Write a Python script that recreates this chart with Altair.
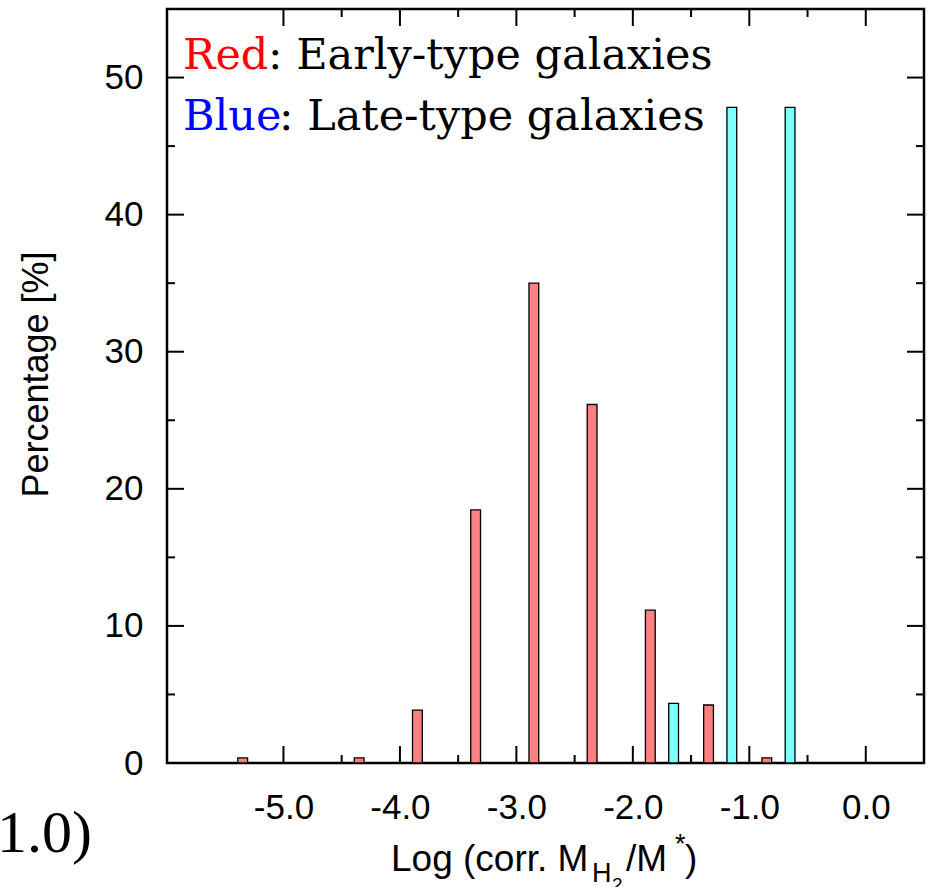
import altair as alt
import pandas as pd

# Histogram of log(corrected M_H2 / M*) in 0.5-dex bins, as percentage of each sample
early_bins = [-5.25, -4.25, -3.75, -3.25, -2.75, -2.25, -1.75, -1.25, -0.75]
early_pct = [0.38, 0.38, 3.85, 18.46, 35.00, 26.15, 11.15, 4.23, 0.38]
late_bins = [-1.75, -1.25, -0.75]
late_pct = [4.35, 47.83, 47.83]

x_major = [-5.0, -4.0, -3.0, -2.0, -1.0, 0.0]
x_minor = [-4.5, -3.5, -2.5, -1.5, -0.5]
y_major = [10, 20, 30, 40, 50]
y_minor = [5, 15, 25, 35, 45]
y_labels = [0, 10, 20, 30, 40, 50]

W, H = 757, 754
X_DOMAIN = [-6.0, 0.5]
Y_DOMAIN = [0, 55]

bars = pd.DataFrame(
    {"group": ["early"] * len(early_bins) + ["late"] * len(late_bins),
     "bin": early_bins + late_bins,
     "pct": early_pct + late_pct}
)

xs = alt.Scale(domain=X_DOMAIN, nice=False, zero=False)
ys = alt.Scale(domain=Y_DOMAIN, nice=False, zero=False)

# one axis definition shared by every layer so the merged axis keeps these settings
x_axis = alt.Axis(
    values=x_major,
    title="",
    labelExpr="(datum.value < 0 ? '-' : '') + format(abs(datum.value), '.1f')",
    labelPadding=27,
)
y_axis = alt.Axis(
    values=y_labels,
    title="Percentage [%]",
    labelPadding=24,
    titlePadding=49,
    titleFontSize=36,
    titleY=365,
)

hist = (
    alt.Chart(bars)
    .transform_calculate(
        c="datum.bin + (datum.group === 'early' ? -0.1 : 0.1)",
        lo="datum.c - 0.042",
        hi="datum.c + 0.042",
    )
    .mark_rect(stroke="black", strokeWidth=1.3)
    .encode(
        x=alt.X("lo:Q", scale=xs, axis=x_axis),
        x2="hi:Q",
        y=alt.Y("pct:Q", scale=ys, axis=y_axis),
        y2=alt.datum(0),
        color=alt.Color(
            "group:N",
            scale=alt.Scale(domain=["early", "late"], range=["#ff8080", "#80ffff"]),
            legend=None,
        ),
    )
)


def xticks(vals, length):
    d = pd.DataFrame({"v": vals})
    base = alt.Chart(d).mark_rule(color="black", strokeWidth=2)
    bottom = base.encode(x=alt.X("v:Q", scale=xs, axis=x_axis), y=alt.value(H), y2=alt.value(H - length))
    top = base.encode(x=alt.X("v:Q", scale=xs, axis=x_axis), y=alt.value(0), y2=alt.value(length))
    return [bottom, top]


def yticks(vals, length):
    d = pd.DataFrame({"v": vals})
    base = alt.Chart(d).mark_rule(color="black", strokeWidth=2)
    left = base.encode(y=alt.Y("v:Q", scale=ys, axis=y_axis), x=alt.value(0), x2=alt.value(length))
    right = base.encode(y=alt.Y("v:Q", scale=ys, axis=y_axis), x=alt.value(W), x2=alt.value(W - length))
    return [left, right]


def text(s, x, y, size, color="black", font="Liberation Sans", align="left"):
    return (
        alt.Chart(alt.Data(values=[{}]))
        .mark_text(text=s, font=font, fontSize=size, color=color, align=align, baseline="alphabetic")
        .encode(x=alt.value(x), y=alt.value(y))
    )


SERIF = "DejaVu Serif"
legend_layers = [
    text("Red", 16, 60, 43, color="#ff0000", font=SERIF),
    text(": Early-type galaxies", 101, 60, 43, font=SERIF),
    text("Blue", 16, 121, 43, color="#0000ff", font=SERIF),
    text(": Late-type galaxies", 112, 121, 43, font=SERIF),
]

# x-axis title: Log (corr. M_H2 / M*)
title_layers = [
    text("Log (corr. M", 224, 862, 37),
    text("H", 425, 873, 27),
    text("2", 445, 882, 19),
    text("/M", 459, 862, 37),
    text("*", 508, 844, 27),
    text(")", 518, 862, 37),
]

# neighbouring panel's label fragment
fragment = [text("1.0)", -75, 843, 60, font="Liberation Serif", align="right")]

layers = [hist]
layers += xticks(x_major, 17) + xticks(x_minor, 8)
layers += yticks(y_major, 17) + yticks(y_minor, 8)
layers += legend_layers + title_layers + fragment

chart = (
    alt.layer(*layers)
    .properties(
        width=W,
        height=H,
        padding={"left": 167, "top": 9, "right": 6, "bottom": 124},
        autosize=alt.AutoSizeParams(type="none"),
        background="white",
    )
    .configure_view(stroke="black", strokeWidth=2.5)
    .configure_axis(
        domain=False,
        ticks=False,
        tickSize=0,
        grid=False,
        labelFont="Liberation Sans",
        labelFontSize=35,
        labelColor="black",
        titleFont="Liberation Sans",
        titleFontSize=34,
        titleFontWeight="normal",
        titleColor="black",
    )
)

chart.save("out.html", embed_options={"renderer": "svg", "actions": False})
